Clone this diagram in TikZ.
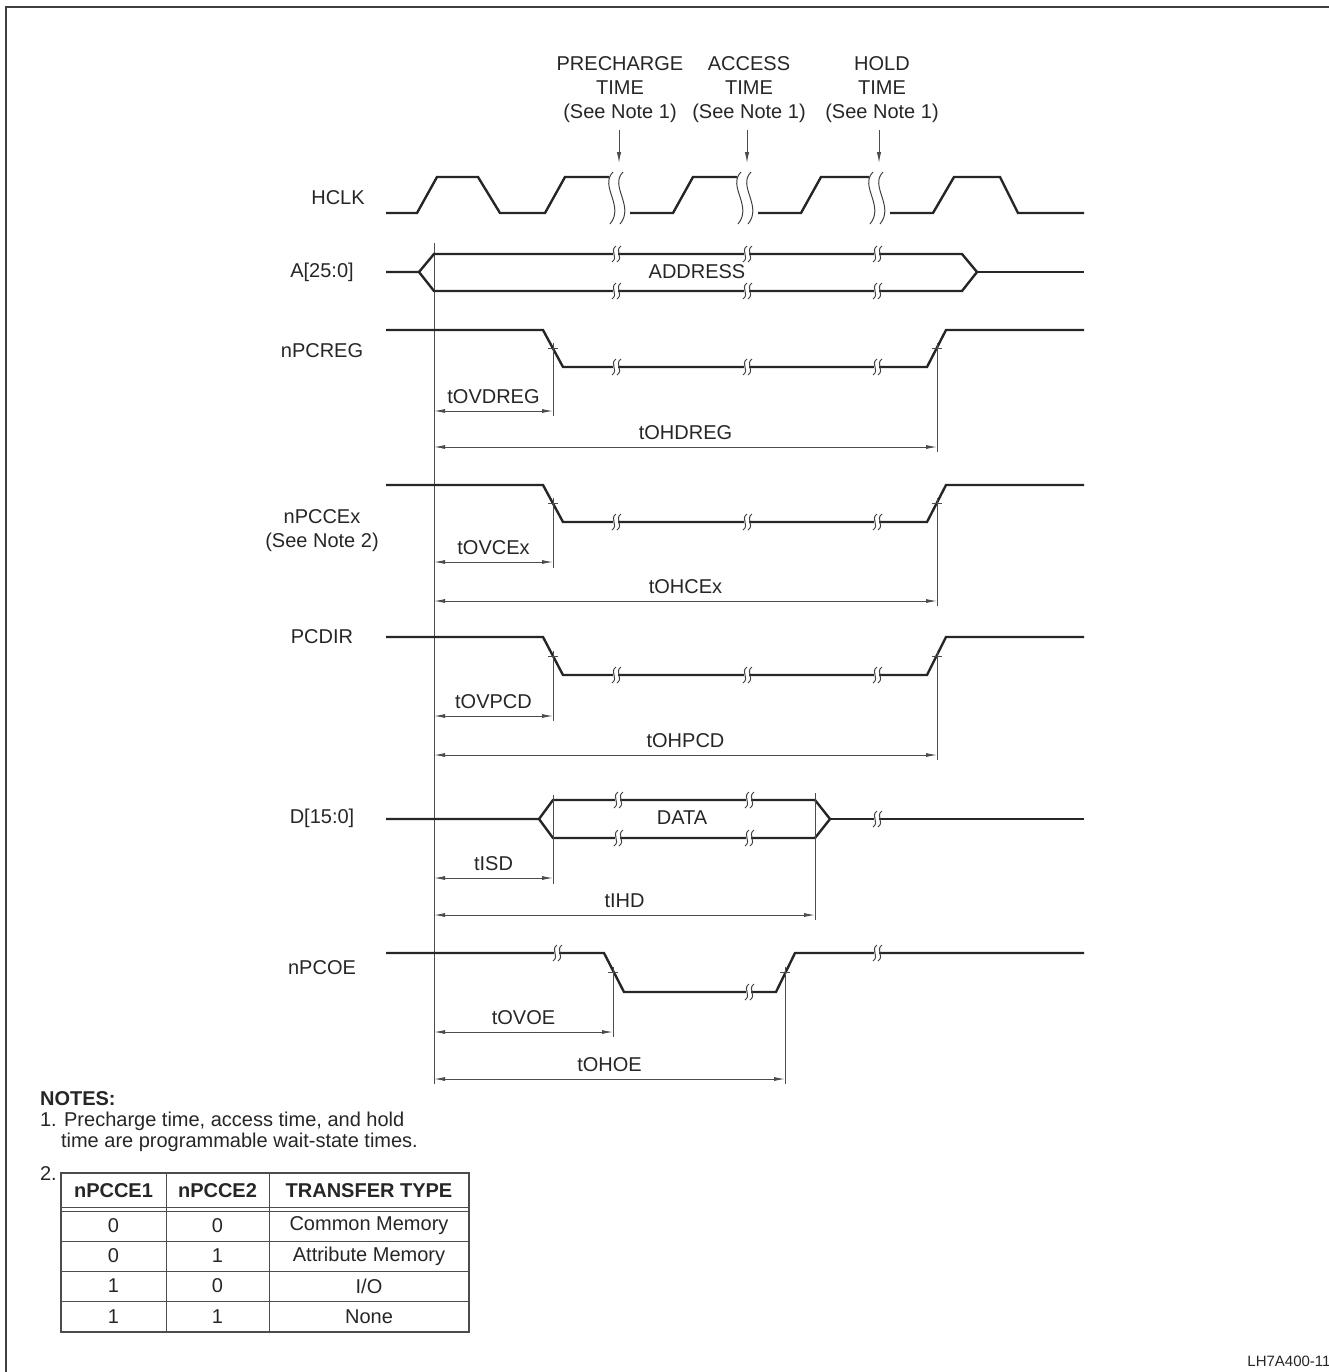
\documentclass[tikz,border=0pt]{standalone}
\usepackage{fontspec}
\setmainfont{Liberation Sans}
\usetikzlibrary{arrows.meta}

% small break mark on a level or bus line
\newcommand{\linebrk}[2]{%
  \fill[white] (#1-2,#2-2) rectangle (#1+3,#2+2);
  \draw[brk] (#1+1,#2-8) .. controls (#1-6,#2-3) and (#1+4,#2+3) .. (#1-3,#2+8);
  \draw[brk] (#1+6,#2-8) .. controls (#1-1,#2-3) and (#1+9,#2+3) .. (#1+2,#2+8);
}
% big break mark on the clock
\newcommand{\clkbrk}[1]{%
  \draw[brk] (#1+4,172) .. controls (#1-10,186) and (#1+16,206) .. (#1+1,224);
  \draw[brk] (#1+14,172) .. controls (#1,186) and (#1+26,206) .. (#1+11,224);
}
% edge marker plus extension line
\newcommand{\edgetick}[3]{%
  \draw[thinln] (#1-5,#2) -- (#1+5,#2);
  \draw[thinln] (#1,#2-5) -- (#1,#3);
}

\begin{document}
\begin{tikzpicture}[
    x=0.5pt, y=-0.5pt,
    every node/.style={font=\fontsize{10}{12}\selectfont, text=black!85},
    sig/.style={line width=1.2pt, draw=black!85},
    thinln/.style={line width=0.45pt, draw=black!70},
    brk/.style={line width=0.5pt, draw=black!75},
    dim/.style={thinln, {Latex[length=5.5pt,width=2pt]}-{Latex[length=5.5pt,width=2pt]}},
    pointer/.style={thinln, -{Latex[length=5.5pt,width=2.2pt]}},
    lbl/.style={align=center},
    cell/.style={anchor=center}
]
\useasboundingbox (0,0) rectangle (1329,1372);
\draw[line width=1pt, draw=black!75] (6,1372) -- (6,7) -- (1329,7);

% wait-state notes at the top
\node[lbl] (pre) at (620,90) {PRECHARGE\\TIME\\(See Note 1)};
\node[lbl] (acc) at (749,90) {ACCESS\\TIME\\(See Note 1)};
\node[lbl] (hld) at (882,90) {HOLD\\TIME\\(See Note 1)};
\draw[pointer] (619,130) -- (619,163);
\draw[pointer] (747,130) -- (747,163);
\draw[pointer] (879,130) -- (879,163);

% signal names
\node (hclk)  at (338,198) {HCLK};
\node (addr)  at (322,272) {A[25:0]};
\node (preg)  at (322,351) {nPCREG};
\node[lbl] (pcce) at (322,531) {nPCCEx\\(See Note 2)};
\node (pcdir) at (322,637) {PCDIR};
\node (data)  at (322,818) {D[15:0]};
\node (pcoe)  at (322,968) {nPCOE};

% HCLK
\draw[sig] (386,213) -- (417,213) -- (437,177) -- (478,177) -- (500,213) -- (545,213) -- (565,177) -- (609,177);
\draw[sig] (630,213) -- (673,213) -- (693,177) -- (737,177);
\draw[sig] (758,213) -- (801,213) -- (821,177) -- (869,177);
\draw[sig] (890,213) -- (933,213) -- (954,177) -- (1000,177) -- (1018,213) -- (1084,213);
\foreach \xb in {609,737,869} {\clkbrk{\xb}}

% reference line
\draw[thinln] (434,243) -- (434,1084);

% A[25:0]
\draw[sig] (386,272) -- (419,272) -- (434,254) -- (962,254) -- (977,272) -- (962,291) -- (434,291) -- (419,272);
\draw[sig] (977,272) -- (1084,272);
\foreach \xb in {615,746,876} {\linebrk{\xb}{254} \linebrk{\xb}{291}}
\node (addrtxt) at (697,272) {ADDRESS};

% nPCREG
\draw[sig] (386,330) -- (543,330) -- (563,367) -- (927,367) -- (946,330) -- (1084,330);
\foreach \xb in {615,746,876} {\linebrk{\xb}{367}}
\edgetick{553}{348}{416}
\edgetick{937}{348}{452}
\draw[dim] (434,411) -- node[above] (tovdreg) {tOVDREG} (553,411);
\draw[dim] (434,447) -- node[above] (tohdreg) {tOHDREG} (937,447);

% nPCCEx
\draw[sig] (386,485) -- (543,485) -- (563,522) -- (927,522) -- (946,485) -- (1084,485);
\foreach \xb in {615,746,876} {\linebrk{\xb}{522}}
\edgetick{553}{503}{568}
\edgetick{937}{503}{606}
\draw[dim] (434,562) -- node[above] (tovcex) {tOVCEx} (553,562);
\draw[dim] (434,601) -- node[above] (tohcex) {tOHCEx} (937,601);

% PCDIR
\draw[sig] (386,637) -- (543,637) -- (563,675) -- (927,675) -- (946,637) -- (1084,637);
\foreach \xb in {615,746,876} {\linebrk{\xb}{675}}
\edgetick{553}{656}{721}
\edgetick{937}{656}{760}
\draw[dim] (434,716) -- node[above] (tovpcd) {tOVPCD} (553,716);
\draw[dim] (434,755) -- node[above] (tohpcd) {tOHPCD} (937,755);

% D[15:0]
\draw[sig] (386,819) -- (539,819) -- (553,800) -- (815,800) -- (830,819) -- (815,838) -- (553,838) -- (539,819);
\draw[sig] (830,819) -- (1084,819);
\foreach \xb in {617,748} {\linebrk{\xb}{800} \linebrk{\xb}{838}}
\linebrk{876}{819}
\node (datatxt) at (682,818) {DATA};
\draw[thinln] (553,795) -- (553,884);
\draw[thinln] (815,793) -- (815,920);
\draw[dim] (434,878) -- node[above] (tisd) {tISD} (553,878);
\draw[dim] (434,915) -- node[above] (tihd) {tIHD} (815,915);

% nPCOE
\draw[sig] (386,953) -- (604,953) -- (624,992) -- (776,992) -- (795,953) -- (1084,953);
\linebrk{556}{953} \linebrk{748}{992} \linebrk{876}{953}
\edgetick{613}{972}{1037}
\edgetick{785}{972}{1084}
\draw[dim] (434,1032) -- node[above] (tovoe) {tOVOE} (613,1032);
\draw[dim] (434,1079) -- node[above] (tohoe) {tOHOE} (785,1079);

% notes
\node[anchor=west, font=\fontsize{10}{12}\selectfont\bfseries] (notes) at (33,1099) {NOTES:};
\node[anchor=west] (note1a) at (33,1121) {1. Precharge time, access time, and hold};
\node[anchor=west] (note1b) at (54,1142) {time are programmable wait-state times.};
\node[anchor=west] (note2) at (33,1174) {2.};

% table of note 2
\draw[thinln, line width=0.7pt] (61,1173) rectangle (469,1332);
\draw[thinln] (61,1207.5) -- (469,1207.5);
\draw[thinln] (61,1211) -- (469,1211);
\draw[thinln] (61,1241) -- (469,1241);
\draw[thinln] (61,1271) -- (469,1271);
\draw[thinln] (61,1301) -- (469,1301);
\draw[thinln] (166,1173) -- (166,1332);
\draw[thinln] (269,1173) -- (269,1332);
\node[cell, font=\fontsize{10}{12}\selectfont\bfseries] (h1) at (113.5,1191) {nPCCE1};
\node[cell, font=\fontsize{10}{12}\selectfont\bfseries] (h2) at (217.5,1191) {nPCCE2};
\node[cell, font=\fontsize{10}{12}\selectfont\bfseries] (h3) at (369,1191) {TRANSFER TYPE};
\node[cell] (r1a) at (113.5,1226) {0};
\node[cell] (r1b) at (217.5,1226) {0};
\node[cell] (r1c) at (369,1226) {Common Memory};
\node[cell] (r2a) at (113.5,1256) {0};
\node[cell] (r2b) at (217.5,1256) {1};
\node[cell] (r2c) at (369,1256) {Attribute Memory};
\node[cell] (r3a) at (113.5,1286) {1};
\node[cell] (r3b) at (217.5,1286) {0};
\node[cell] (r3c) at (369,1286) {I/O};
\node[cell] (r4a) at (113.5,1316.5) {1};
\node[cell] (r4b) at (217.5,1316.5) {1};
\node[cell] (r4c) at (369,1316.5) {None};

\node[anchor=west, inner sep=0pt, font=\fontsize{7.5}{9}\selectfont] (figid) at (1247,1361) {LH7A400-11};
\end{tikzpicture}
\end{document}
